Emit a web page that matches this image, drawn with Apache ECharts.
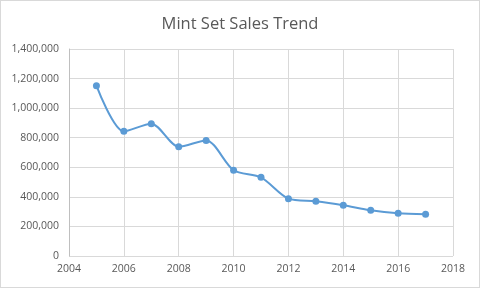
<!DOCTYPE html>
<html>
<head>
<meta charset="utf-8">
<script src="https://cdn.jsdelivr.net/npm/echarts@6/dist/echarts.min.js"></script>
<style>
  html, body { margin: 0; padding: 0; background: #fff; }
  #chart { width: 478px; height: 286px; border: 1px solid #d9d9d9; }
</style>
</head>
<body>
<div id="chart"></div>
<script>
const years = [2005, 2006, 2007, 2008, 2009, 2010, 2011, 2012, 2013, 2014, 2015, 2016, 2017];
const sales = [1152000, 843000, 895000, 739000, 782000, 580000, 532000, 388000, 370000, 343000, 309000, 289000, 282000];

const chart = echarts.init(document.getElementById('chart'));
chart.setOption({
  animation: false,
  title: {
    text: 'Mint Set Sales Trend',
    left: 'center',
    top: 10,
    textStyle: { fontFamily: 'Open Sans', fontSize: 16.5, fontWeight: 'normal', color: '#595959' }
  },
  grid: { left: 68, right: 26, top: 48, bottom: 31 },
  xAxis: {
    type: 'value',
    min: 2004,
    max: 2018,
    interval: 2,
    axisLine: { show: false },
    axisTick: { show: false },
    splitLine: { lineStyle: { color: '#d9d9d9' } },
    axisLabel: { color: '#595959', fontFamily: 'Open Sans', fontSize: 10.5, margin: 8, formatter: v => String(v) }
  },
  yAxis: {
    type: 'value',
    min: 0,
    max: 1400000,
    interval: 200000,
    axisLine: { show: true, lineStyle: { color: '#bfbfbf' } },
    axisTick: { show: false },
    splitLine: { lineStyle: { color: '#d9d9d9' } },
    axisLabel: {
      color: '#595959', fontFamily: 'Open Sans', fontSize: 10.5, margin: 10,
      formatter: v => v.toLocaleString('en-US')
    }
  },
  series: [{
    type: 'line',
    data: years.map((y, i) => [y, sales[i]]),
    smooth: 0.28,
    symbol: 'circle',
    symbolSize: 7,
    lineStyle: { color: '#5b9bd5', width: 2 },
    itemStyle: { color: '#5b9bd5' }
  }]
});
</script>
</body>
</html>
